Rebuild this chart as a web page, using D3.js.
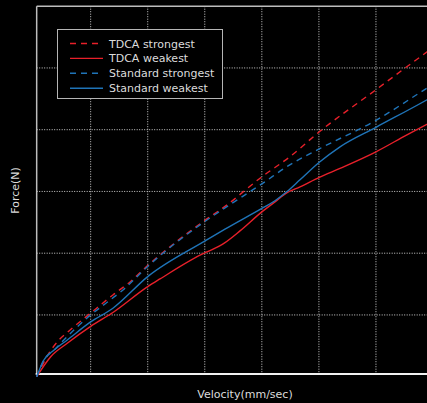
<!DOCTYPE html>
<html>
<head>
<meta charset="utf-8">
<script src="https://cdn.jsdelivr.net/npm/d3@7"></script>
<style>
  html, body { margin: 0; padding: 0; background: #000; }
  #chart { width: 427px; height: 403px; overflow: hidden; }
  text { font-family: "DejaVu Sans", sans-serif; fill: #dcdcdc; }
</style>
</head>
<body>
<div id="chart"></div>
<script>
// --- data (velocity units = grid steps, force units = grid steps) ---
const seriesNames = ["TDCA strongest", "TDCA weakest", "Standard strongest", "Standard weakest"];
const seriesColors = ["#e8202a", "#e8202a", "#1f74b8", "#1f74b8"];
const seriesDashed = [true, false, true, false];

const tdcaStrongest = [
  [0.054, 0], [0.27, 0.38], [0.445, 0.595], [0.62, 0.74], [1.0, 1.03], [1.39, 1.324],
  [1.69, 1.535], [2.0, 1.8], [2.99, 2.524], [3.354, 2.758], [4.0, 3.237], [4.49, 3.561],
  [5.007, 3.966], [6.0, 4.647], [6.509, 4.998], [7.0, 5.33]
];
const tdcaWeakest = [
  [0.054, 0], [0.30, 0.324], [0.59, 0.541], [1.0, 0.814], [1.39, 1.04], [2.0, 1.459],
  [2.215, 1.583], [2.99, 2.0], [3.12, 2.054], [3.354, 2.172], [3.617, 2.361], [4.0, 2.669],
  [4.23, 2.831], [4.436, 2.977], [4.669, 3.075], [5.007, 3.229], [5.37, 3.374], [6.0, 3.642],
  [6.543, 3.917], [7.0, 4.14]
];
const stdStrongest = [
  [0.054, 0], [0.18, 0.27], [0.36, 0.433], [0.53, 0.595], [1.0, 1.0], [1.25, 1.178],
  [1.567, 1.405], [2.0, 1.786], [2.99, 2.507], [3.354, 2.734], [4.0, 3.123], [4.49, 3.431],
  [5.007, 3.69], [6.0, 4.152], [6.895, 4.674], [7.0, 4.735]
];
const stdWeakest = [
  [0.054, 0], [0.18, 0.27], [0.36, 0.433], [0.59, 0.595], [1.0, 0.887], [1.39, 1.109],
  [2.0, 1.621], [2.99, 2.191], [3.354, 2.389], [4.0, 2.726], [4.23, 2.85], [4.436, 2.994],
  [4.669, 3.188], [5.007, 3.472], [5.37, 3.723], [6.0, 4.039], [6.895, 4.485], [7.0, 4.54]
];
const seriesValues = [tdcaStrongest, tdcaWeakest, stdStrongest, stdWeakest];

const xGridTicks = [1, 2, 3, 4, 5, 6];
const yGridTicks = [1, 2, 3, 4, 5];
const xAxisLabel = "Velocity(mm/sec)";
const yAxisLabel = "Force(N)";

// --- layout ---
const W = 427, H = 403;
const x = d3.scaleLinear().domain([0, 7]).range([33.6, 33.6 + 7 * 57.06]);
const y = d3.scaleLinear().domain([0, 6]).range([376.7, 6.2]);
const xStart = 0.054;   // where the left axis sits
const yStart = 0.045;   // where the bottom axis sits

const svg = d3.select("#chart").append("svg")
  .attr("width", W)
  .attr("height", H);

svg.append("rect").attr("width", W).attr("height", H).attr("fill", "#000");

// grid
svg.append("g").selectAll("line")
  .data(xGridTicks)
  .join("line")
  .attr("x1", d => x(d)).attr("x2", d => x(d))
  .attr("y1", y(6)).attr("y2", y(yStart))
  .attr("stroke", "#cfcfcf")
  .attr("stroke-width", 1)
  .attr("stroke-dasharray", "1,1.5");

svg.append("g").selectAll("line")
  .data(yGridTicks)
  .join("line")
  .attr("x1", x(xStart)).attr("x2", W)
  .attr("y1", d => y(d)).attr("y2", d => y(d))
  .attr("stroke", "#cfcfcf")
  .attr("stroke-width", 1)
  .attr("stroke-dasharray", "1,1.5");

// frame
svg.append("line")
  .attr("x1", x(xStart)).attr("x2", W)
  .attr("y1", y(6)).attr("y2", y(6))
  .attr("stroke", "#bdbdbd").attr("stroke-width", 1.5);
svg.append("line")
  .attr("x1", x(xStart)).attr("x2", x(xStart))
  .attr("y1", y(6)).attr("y2", y(yStart))
  .attr("stroke", "#bdbdbd").attr("stroke-width", 1.5);
svg.append("line")
  .attr("x1", x(xStart) - 1).attr("x2", W)
  .attr("y1", y(yStart)).attr("y2", y(yStart))
  .attr("stroke", "#f0f0f0").attr("stroke-width", 2);

// curves
const line = d3.line()
  .x(d => x(d[0]))
  .y(d => y(d[1]))
  .curve(d3.curveMonotoneX);

svg.append("g").selectAll("path")
  .data(seriesValues)
  .join("path")
  .attr("d", line)
  .attr("fill", "none")
  .attr("stroke", (_, i) => seriesColors[i])
  .attr("stroke-width", 1.4)
  .attr("stroke-dasharray", (_, i) => seriesDashed[i] ? "6,5" : null);

// legend
const legend = svg.append("g");
legend.append("rect")
  .attr("x", 57.5).attr("y", 29.5)
  .attr("width", 165).attr("height", 69)
  .attr("fill", "#000")
  .attr("stroke", "#b5b5b5")
  .attr("stroke-width", 1);

const items = legend.selectAll("g.item")
  .data(seriesNames)
  .join("g")
  .attr("class", "item")
  .attr("transform", (_, i) => `translate(0, ${43.5 + i * 14.9})`);

items.append("line")
  .attr("x1", 70).attr("x2", 103)
  .attr("y1", 0).attr("y2", 0)
  .attr("stroke", (_, i) => seriesColors[i])
  .attr("stroke-width", 1.4)
  .attr("stroke-dasharray", (_, i) => seriesDashed[i] ? "6,5" : null);

items.append("text")
  .attr("x", 109)
  .attr("y", 4)
  .attr("font-size", "11px")
  .text(d => d);

// axis labels
svg.append("text")
  .attr("x", 245)
  .attr("y", 398)
  .attr("text-anchor", "middle")
  .attr("font-size", "11px")
  .text(xAxisLabel);

svg.append("text")
  .attr("transform", "translate(19, 190.5) rotate(-90)")
  .attr("text-anchor", "middle")
  .attr("font-size", "11px")
  .text(yAxisLabel);
</script>
</body>
</html>
